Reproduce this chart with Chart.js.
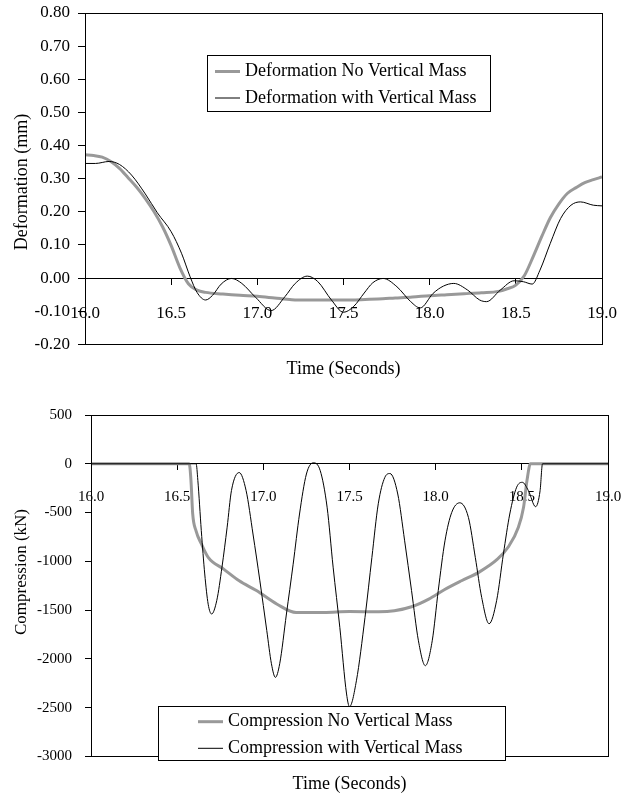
<!DOCTYPE html>
<html>
<head>
<meta charset="utf-8">
<script src="https://cdn.jsdelivr.net/npm/chart.js@4.4.1/dist/chart.umd.min.js"></script>
<style>
  html, body { margin: 0; padding: 0; background: #fff; }
  #wrap { position: relative; width: 633px; height: 796px; background: #fff; }
  canvas { position: absolute; left: 0; }
  #c1 { top: 0; }
  #c2 { top: 400px; }
</style>
</head>
<body>
<div id="wrap">
  <canvas id="c1" width="633" height="400"></canvas>
  <canvas id="c2" width="633" height="396"></canvas>
</div>
<script>
// ---------------- DATA ----------------
const xTickValues = [16.0, 16.5, 17.0, 17.5, 18.0, 18.5, 19.0];
const xTickLabels = ['16.0', '16.5', '17.0', '17.5', '18.0', '18.5', '19.0'];
const defTickValues = [-0.2, -0.1, 0.0, 0.1, 0.2, 0.3, 0.4, 0.5, 0.6, 0.7, 0.8];
const defTickLabels = ['-0.20', '-0.10', '0.00', '0.10', '0.20', '0.30', '0.40', '0.50', '0.60', '0.70', '0.80'];
const compTickValues = [-3000, -2500, -2000, -1500, -1000, -500, 0, 500];
const compTickLabels = ['-3000', '-2500', '-2000', '-1500', '-1000', '-500', '0', '500'];

const defLabels = ['Deformation No Vertical Mass', 'Deformation with Vertical Mass'];
const compLabels = ['Compression No Vertical Mass', 'Compression with Vertical Mass'];

// Deformation, no vertical mass (time s, mm)
const tDefNoMass = [16.0, 16.05, 16.1, 16.15, 16.2, 16.25, 16.3, 16.35, 16.4, 16.45, 16.5, 16.55, 16.6, 16.65, 16.7, 16.8, 16.9, 17.0, 17.1, 17.2, 17.3, 17.4, 17.5, 17.6, 17.7, 17.8, 17.9, 18.0, 18.1, 18.2, 18.3, 18.4, 18.45, 18.5, 18.55, 18.6, 18.65, 18.7, 18.75, 18.8, 18.85, 18.9, 18.95, 19.0];
const defNoMass = [0.372, 0.370, 0.365, 0.352, 0.331, 0.303, 0.274, 0.240, 0.201, 0.155, 0.098, 0.032, -0.017, -0.036, -0.043, -0.048, -0.052, -0.055, -0.060, -0.065, -0.066, -0.066, -0.066, -0.065, -0.063, -0.060, -0.057, -0.053, -0.050, -0.047, -0.044, -0.040, -0.032, -0.021, 0.008, 0.064, 0.125, 0.182, 0.224, 0.256, 0.273, 0.288, 0.297, 0.305];

// Deformation, with vertical mass
const tDefMass = [16.0, 16.06, 16.14, 16.2, 16.27, 16.35, 16.42, 16.5, 16.56, 16.61, 16.65, 16.70, 16.74, 16.79, 16.85, 16.91, 16.99, 17.08, 17.16, 17.22, 17.29, 17.35, 17.43, 17.50, 17.56, 17.62, 17.67, 17.73, 17.81, 17.89, 17.945, 18.02, 18.08, 18.14, 18.22, 18.29, 18.33, 18.41, 18.49, 18.545, 18.595, 18.64, 18.70, 18.76, 18.82, 18.875, 18.95, 19.0];
const defMass = [0.346, 0.346, 0.352, 0.343, 0.311, 0.254, 0.197, 0.140, 0.075, 0.004, -0.043, -0.066, -0.052, -0.018, -0.001, -0.016, -0.058, -0.098, -0.056, -0.016, 0.006, -0.010, -0.066, -0.103, -0.085, -0.045, -0.014, -0.001, -0.026, -0.071, -0.090, -0.046, -0.024, -0.016, -0.036, -0.066, -0.071, -0.036, -0.008, -0.011, -0.018, 0.024, 0.105, 0.180, 0.220, 0.230, 0.220, 0.218];

// Compression, no vertical mass (time s, kN)
const tCompNoMass = [16.0, 16.57, 16.58, 16.59, 16.61, 16.64, 16.68, 16.77, 16.86, 16.96, 17.08, 17.19, 17.35, 17.5, 17.67, 17.76, 17.86, 17.96, 18.05, 18.15, 18.25, 18.36, 18.42, 18.48, 18.51, 18.53, 18.55, 19.0];
const compNoMass = [0, 0, -170, -510, -690, -820, -960, -1080, -1200, -1300, -1440, -1525, -1525, -1515, -1517, -1507, -1466, -1387, -1291, -1199, -1113, -976, -856, -651, -446, -170, 0, 0];

// Compression, with vertical mass
const tCompMass = [16.0, 16.61, 16.62, 16.64, 16.66, 16.68, 16.70, 16.73, 16.76, 16.79, 16.815, 16.86, 16.90, 16.94, 16.98, 17.02, 17.047, 17.07, 17.095, 17.134, 17.173, 17.21, 17.25, 17.29, 17.33, 17.37, 17.405, 17.444, 17.483, 17.50, 17.54, 17.59, 17.63, 17.667, 17.705, 17.735, 17.78, 17.82, 17.86, 17.90, 17.94, 17.98, 18.015, 18.054, 18.093, 18.14, 18.19, 18.23, 18.267, 18.31, 18.354, 18.393, 18.43, 18.47, 18.503, 18.538, 18.58, 18.606, 18.62, 19.0];
const compMass = [0, 0, -170, -685, -1130, -1440, -1540, -1400, -1060, -650, -275, -90, -275, -720, -1200, -1710, -2050, -2190, -2050, -1540, -1030, -515, -105, 10, -70, -445, -1060, -1680, -2360, -2490, -2225, -1575, -960, -410, -140, -100, -310, -790, -1300, -1815, -2070, -1815, -1300, -790, -500, -400, -550, -960, -1370, -1640, -1400, -925, -515, -240, -190, -275, -440, -275, 0, 0];

// ---------------- HELPERS ----------------
const SERIF = '"Liberation Serif", "Times New Roman", Times, serif';
Chart.defaults.font.family = SERIF;
Chart.defaults.color = '#000';

function pts(xs, ys) { return xs.map((x, i) => ({ x: x, y: ys[i] })); }
function noPad(s) { s.paddingTop = 0; s.paddingBottom = 0; s.paddingLeft = 0; s.paddingRight = 0; }

const framePlugin = {
  id: 'frameLegend',
  afterDatasetsDraw(chart, args, opts) {
    const { ctx, chartArea: a } = chart;
    ctx.save();
    ctx.strokeStyle = '#000';
    ctx.lineWidth = 1;
    const l = Math.round(a.left) + 0.5, t = Math.round(a.top) + 0.5;
    const r = Math.round(a.right) + 0.5, b = Math.round(a.bottom) + 0.5;
    ctx.strokeRect(l, t, r - l, b - t);
    // legend box
    const L = opts.box;
    if (L) {
      ctx.fillStyle = '#fff';
      ctx.fillRect(L.x, L.y, L.w, L.h);
      ctx.strokeStyle = '#000';
      ctx.strokeRect(L.x + 0.5, L.y + 0.5, L.w, L.h);
      ctx.font = opts.fontSize + 'px ' + SERIF;
      ctx.textBaseline = 'middle';
      ctx.textAlign = 'left';
      chart.data.datasets.forEach((ds, i) => {
        const y = L.rows[i];
        ctx.strokeStyle = ds.borderColor;
        ctx.lineWidth = ds.borderWidth;
        ctx.beginPath();
        ctx.moveTo(L.sx0, y);
        ctx.lineTo(L.sx1, y);
        ctx.stroke();
        ctx.fillStyle = '#000';
        ctx.fillText(ds.label, L.tx, y);
      });
    }
    // y-axis title
    const Y = opts.yTitle;
    if (Y) {
      ctx.save();
      ctx.translate(Y.x, Y.y);
      ctx.rotate(-Math.PI / 2);
      ctx.font = Y.size + 'px ' + SERIF;
      ctx.fillStyle = '#000';
      ctx.textAlign = 'center';
      ctx.textBaseline = 'middle';
      ctx.fillText(Y.text, 0, 0);
      ctx.restore();
    }
    ctx.restore();
  }
};

function makeChart(id, cfg) {
  return new Chart(document.getElementById(id), {
    type: 'line',
    data: {
      datasets: [
        { label: cfg.labels[0], data: pts(cfg.t0, cfg.v0), borderColor: 'rgb(153,153,153)', borderWidth: 3, pointRadius: 0, cubicInterpolationMode: 'monotone', order: 2, fill: false },
        { label: cfg.labels[1], data: pts(cfg.t1, cfg.v1), borderColor: '#000', borderWidth: 1, pointRadius: 0, cubicInterpolationMode: 'monotone', order: 1, fill: false }
      ]
    },
    options: {
      responsive: false,
      animation: false,
      devicePixelRatio: 1,
      layout: { padding: cfg.padding },
      plugins: {
        legend: { display: false },
        tooltip: { enabled: false },
        title: {
          display: true, position: 'bottom', fullSize: false, text: 'Time (Seconds)',
          font: { size: 18, weight: 'normal', family: SERIF }, color: '#000',
          padding: { top: cfg.titlePad, bottom: 0 }
        },
        frameLegend: { box: cfg.legend, fontSize: 18, yTitle: cfg.yTitle }
      },
      scales: {
        x: {
          type: 'linear', min: 16, max: 19,
          position: { y: 0 },
          afterBuildTicks: (s) => { s.ticks = xTickValues.map(v => ({ value: v })); },
          afterFit: noPad,
          ticks: {
            autoSkip: false, maxRotation: 0, padding: cfg.xTickPad,
            font: { size: cfg.tickSize, family: SERIF }, color: '#000',
            callback: (v) => { const i = xTickValues.findIndex(t => Math.abs(t - v) < 1e-9); return i >= 0 ? xTickLabels[i] : ''; }
          },
          grid: { display: true, drawOnChartArea: false, drawTicks: true, tickLength: 6, color: '#000', lineWidth: 1 },
          border: { display: true, color: '#000', width: 1 }
        },
        y: {
          type: 'linear', position: 'left', min: cfg.yMin, max: cfg.yMax,
          afterBuildTicks: (s) => { s.ticks = cfg.yTicks.map(v => ({ value: v })); },
          afterFit: (s) => { s.width = cfg.yWidth; noPad(s); },
          ticks: {
            autoSkip: false, padding: cfg.yTickPad,
            font: { size: cfg.tickSize, family: SERIF }, color: '#000',
            callback: (v) => { const i = cfg.yTicks.findIndex(t => Math.abs(t - v) < 1e-9); return i >= 0 ? cfg.yLabels[i] : ''; }
          },
          grid: { display: true, drawOnChartArea: false, drawTicks: true, tickLength: cfg.yTickLen, color: '#000', lineWidth: 1 },
          border: { display: true, color: '#000', width: 1 },
          title: { display: false }
        }
      }
    },
    plugins: [framePlugin]
  });
}

// Top chart: Deformation
makeChart('c1', {
  labels: defLabels,
  t0: tDefNoMass, v0: defNoMass, t1: tDefMass, v1: defMass,
  padding: { left: 0, top: 13, right: 31, bottom: 20 },
  titlePad: 14,
  tickSize: 17, xTickPad: 19,
  yMin: -0.2, yMax: 0.8, yTicks: defTickValues, yLabels: defTickLabels,
  yWidth: 85, yTickLen: 7, yTickPad: 8,
  yTitle: { text: 'Deformation (mm)', x: 22, y: 182, size: 18 },
  legend: { x: 207, y: 55, w: 283, h: 56, rows: [71.5, 98], sx0: 215, sx1: 240, tx: 245 }
});

// Bottom chart: Compression
makeChart('c2', {
  labels: compLabels,
  t0: tCompNoMass, v0: compNoMass, t1: tCompMass, v1: compMass,
  padding: { left: 0, top: 15, right: 25, bottom: 1 },
  titlePad: 17,
  tickSize: 15, xTickPad: 18,
  yMin: -3000, yMax: 500, yTicks: compTickValues, yLabels: compTickLabels,
  yWidth: 91, yTickLen: 6, yTickPad: 13,
  yTitle: { text: 'Compression (kN)', x: 22, y: 172, size: 17 },
  legend: { x: 158, y: 306, w: 347, h: 54, rows: [321.7, 348.3], sx0: 198, sx1: 223, tx: 228 }
});
</script>
</body>
</html>
